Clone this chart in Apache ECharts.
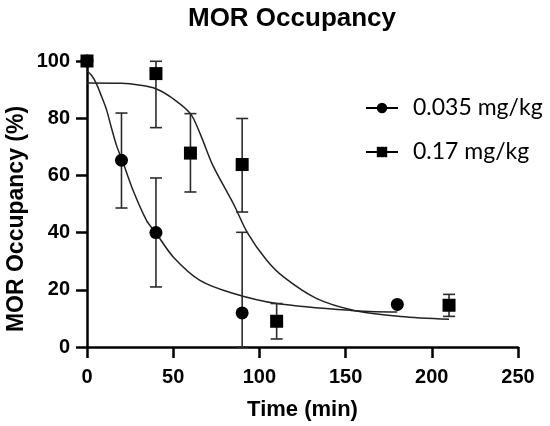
<!DOCTYPE html>
<html>
<head>
<meta charset="utf-8">
<script src="https://cdn.jsdelivr.net/npm/echarts@6/dist/echarts.min.js"></script>
<style>html,body{margin:0;padding:0;background:#fff}#c{width:550px;height:426px}</style>
</head>
<body>
<div id="c"></div>
<script>
// ---- data ----
const seriesNames = ['0.035 mg/kg', '0.17 mg/kg'];
const xTicks = [0, 50, 100, 150, 200, 250];
const yTicks = [0, 20, 40, 60, 80, 100];

const timeLow = [0, 20, 40, 90, 180];
const occLow = [100, 65.3, 40, 11.9, 14.9];
const errLowLow = [null, 48.6, 21, 0, null];
const errHighLow = [null, 81.8, 59.1, 40.1, null];

const timeHigh = [0, 40, 60, 90, 110, 210];
const occHigh = [100, 95.6, 67.8, 63.8, 9.0, 14.6];
const errLowHigh = [null, 76.7, 54.2, 47.2, 2.8, 10.7];
const errHighHigh = [null, 99.9, 81.6, 79.9, 15.2, 18.4];

// fitted curves
const fitLowX = [0, 2.6, 5.5, 8.5, 11.3, 14, 17.1, 20.6, 26.7, 34.5, 40.3, 50, 65.5, 85, 110, 153, 180];
const fitLowY = [96.5, 95, 92, 87.5, 83, 77, 70.5, 65, 54.8, 44.3, 39.6, 31.5, 23.3, 18.7, 15.2, 12.8, 12.2];
const fitHighX = [0, 20, 30, 40, 50, 60, 66, 73, 85, 93, 104, 114, 133, 155, 182, 210];
const fitHighY = [92.3, 92.2, 91.6, 90.3, 86.8, 81.6, 74, 63.5, 50, 40, 30.5, 24.5, 17, 12.8, 10.7, 9.7];

// ---- build ----
const zip = (a, b) => a.map((v, i) => [v, b[i]]);
const errData = (t, lo, hi) => t.map((v, i) => [v, lo[i], hi[i]]).filter(d => d[1] != null);

const FONT = '"Liberation Sans", Arial, sans-serif';

function errRender(params, api) {
  const x = api.value(0);
  const lo = api.coord([x, api.value(1)]);
  const hi = api.coord([x, api.value(2)]);
  const cap = 6;
  const st = { stroke: '#2b2b2b', lineWidth: 1.6 };
  return {
    type: 'group',
    children: [
      { type: 'line', shape: { x1: lo[0], y1: lo[1], x2: hi[0], y2: hi[1] }, style: st },
      { type: 'line', shape: { x1: hi[0] - cap, y1: hi[1], x2: hi[0] + cap, y2: hi[1] }, style: st },
      { type: 'line', shape: { x1: lo[0] - cap, y1: lo[1], x2: lo[0] + cap, y2: lo[1] }, style: st }
    ]
  };
}

const chart = echarts.init(document.getElementById('c'), null, { renderer: 'canvas' });
chart.setOption({
  animation: false,
  backgroundColor: '#fff',
  title: {
    text: 'MOR Occupancy',
    left: 287, top: 1, textAlign: 'center',
    textStyle: { fontFamily: FONT, fontWeight: 'bold', fontSize: 26, color: '#000' }
  },
  legend: {
    orient: 'vertical',
    left: 360, top: 91,
    itemWidth: 32, itemHeight: 13,
    itemGap: 20,
    data: seriesNames,
    lineStyle: { width: 2, color: '#000' },
    textStyle: { fontFamily: 'Lato, "Open Sans", sans-serif', fontSize: 23, color: '#000', lineHeight: 24, padding: [0, 0, 0, 10] }
  },
  grid: { left: 87, right: 32, top: 61, bottom: 79, containLabel: false, outerBoundsMode: 'none' },
  xAxis: {
    type: 'value', min: 0, max: 250, interval: 50,
    name: 'Time (min)', nameLocation: 'middle', nameGap: 52, nameMoveOverlap: false,
    nameTextStyle: { fontFamily: FONT, fontWeight: 'bold', fontSize: 22, color: '#000' },
    axisLine: { lineStyle: { color: '#000', width: 2.5 } },
    axisTick: { show: true, length: 11, lineStyle: { color: '#000', width: 2.5 } },
    axisLabel: { fontFamily: FONT, fontWeight: 'bold', fontSize: 20, color: '#000', margin: 20,
      formatter: v => xTicks.includes(v) ? String(v) : '' },
    splitLine: { show: false }
  },
  yAxis: {
    type: 'value', min: 0, max: 100, interval: 20,
    name: 'MOR Occupancy (%)', nameLocation: 'middle', nameGap: 59, nameMoveOverlap: false,
    nameTextStyle: { fontFamily: FONT, fontWeight: 'bold', fontSize: 23, color: '#000', padding: [0, 30, 0, 0] },
    axisLine: { lineStyle: { color: '#000', width: 2.5 } },
    axisTick: { show: true, length: 11, lineStyle: { color: '#000', width: 2.5 } },
    axisLabel: { fontFamily: FONT, fontWeight: 'bold', fontSize: 20, color: '#000', margin: 17,
      formatter: v => yTicks.includes(v) ? String(v) : '' },
    splitLine: { show: false }
  },
  series: [
    { name: 'fitLow', type: 'line', data: zip(fitLowX, fitLowY), smooth: 0.3, showSymbol: false, symbol: 'none',
      lineStyle: { color: '#222', width: 1.5 }, z: 2, silent: true },
    { name: 'fitHigh', type: 'line', data: zip(fitHighX, fitHighY), smooth: 0.3, showSymbol: false, symbol: 'none',
      lineStyle: { color: '#222', width: 1.5 }, z: 2, silent: true },
    { name: 'errLow', type: 'custom', data: errData(timeLow, errLowLow, errHighLow), renderItem: errRender, z: 3 },
    { name: 'errHigh', type: 'custom', data: errData(timeHigh, errLowHigh, errHighHigh), renderItem: errRender, z: 3 },
    { name: seriesNames[0], type: 'line', data: zip(timeLow, occLow), symbol: 'circle', symbolSize: 13,
      itemStyle: { color: '#000' }, lineStyle: { width: 0, color: '#000' }, z: 4 },
    { name: seriesNames[1], type: 'line', data: zip(timeHigh, occHigh), symbol: 'rect', symbolSize: 13,
      itemStyle: { color: '#000' }, lineStyle: { width: 0, color: '#000' }, z: 5 }
  ]
});
</script>
</body>
</html>
